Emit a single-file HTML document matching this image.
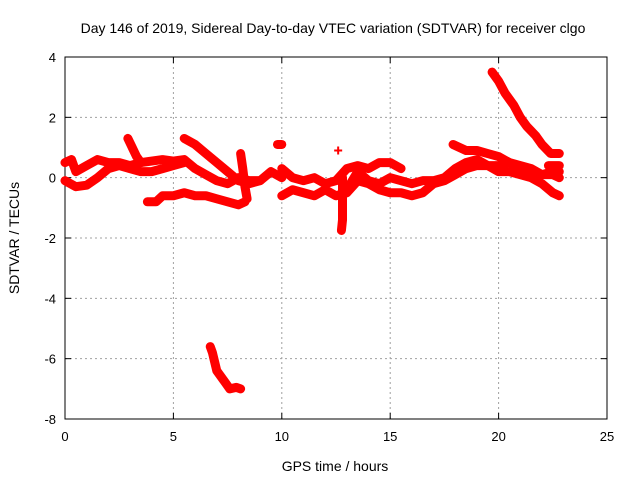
<!DOCTYPE html>
<html><head><meta charset="utf-8"><style>
body{margin:0;background:#fff}
svg text{font-family:"Liberation Sans",sans-serif;fill:#000}
</style></head><body>
<svg id="chart" width="640" height="480" xmlns="http://www.w3.org/2000/svg">
<rect width="640" height="480" fill="#fff"/>
<text x="333" y="33" font-size="14" text-anchor="middle">Day 146 of 2019, Sidereal Day-to-day VTEC variation (SDTVAR) for receiver clgo</text>
<g id="grid"></g><g id="axes"></g><g id="marks"></g>
<text x="335" y="471" font-size="14" text-anchor="middle">GPS time / hours</text>
<text transform="translate(19,238) rotate(-90)" font-size="14" text-anchor="middle">SDTVAR / TECUs</text>
</svg>
<script>
const xTicks=[0,5,10,15,20,25];
const yTicks=[4,2,0,-2,-4,-6,-8];
const tracks=[
[[0,0.5],[0.3,0.6],[0.5,0.2],[1,0.4],[1.5,0.6],[2,0.5],[2.5,0.5],[3,0.4],[3.5,0.5],[4,0.55],[4.5,0.6],[5,0.55],[5.5,0.6],[6,0.3],[6.5,0.1],[7,-0.1],[7.5,-0.2],[8,0],[8.5,-0.1],[9,-0.1],[9.5,0.2],[10,0]],
[[0,-0.1],[0.5,-0.3],[1,-0.25],[1.5,0],[2,0.3],[2.5,0.4],[3,0.3],[3.5,0.2],[4,0.2],[4.5,0.3],[5,0.4],[5.5,0.5]],
[[3.8,-0.8],[4.2,-0.8],[4.5,-0.6],[5,-0.6],[5.5,-0.5],[6,-0.6],[6.5,-0.6],[7,-0.7],[7.5,-0.8],[8,-0.9],[8.3,-0.8]],
[[5.5,1.3],[6,1.1],[6.5,0.8],[7,0.5],[7.5,0.2],[8,-0.1],[8.5,-0.2],[9,-0.1]],
[[2.9,1.3],[3.1,1.0],[3.3,0.7],[3.5,0.5]],
[[8.1,0.8],[8.2,0.3],[8.3,-0.3],[8.4,-0.7]],
[[9.8,1.1],[10,1.1]],
[[12.6,0.9]],
[[10,0.3],[10.5,0],[11,-0.1],[11.5,0],[12,-0.2],[12.5,-0.1],[13,0.3],[13.5,0.4],[14,0.3],[14.5,0.5],[15,0.5],[15.5,0.3]],
[[10,-0.6],[10.5,-0.4],[11,-0.5],[11.5,-0.6],[12,-0.4],[12.5,-0.6],[13,-0.5],[13.5,-0.1],[14,-0.2],[14.5,-0.4],[15,-0.5],[15.5,-0.5],[16,-0.6],[16.5,-0.5],[17,-0.2],[17.5,-0.1],[18,0.1],[18.5,0.3],[19,0.4],[19.5,0.4],[20,0.2],[20.5,0.2],[21,0.1],[21.5,0],[22,-0.2],[22.5,-0.5],[22.8,-0.6]],
[[12.8,-0.6],[13,-0.4],[13.5,0.2],[14,-0.1],[14.5,-0.2],[15,0],[15.5,-0.1],[16,-0.2],[16.5,-0.1],[17,-0.1],[17.5,0],[18,0.3],[18.5,0.5],[19,0.6],[19.5,0.4],[20,0.4],[20.5,0.5],[21,0.3],[21.5,0.2],[22,0.1],[22.5,0.1],[22.8,0]],
[[17.9,1.1],[18.5,0.9],[19,0.9],[19.5,0.8],[20,0.7],[20.5,0.5],[21,0.4],[21.5,0.3],[22,0.1],[22.5,0.2],[22.8,0.2]],
[[19.7,3.5],[20,3.2],[20.3,2.8],[20.7,2.4],[21,2.0],[21.3,1.7],[21.7,1.4],[22,1.1],[22.4,0.8],[22.8,0.8]],
[[22.3,0.4],[22.8,0.4]],
[[12.8,0],[12.8,-0.5],[12.8,-1],[12.8,-1.4],[12.75,-1.75]],
[[6.7,-5.6],[6.8,-5.8],[6.9,-6.1],[7.0,-6.4],[7.2,-6.6],[7.4,-6.8],[7.6,-7.0],[7.9,-6.95],[8.1,-7.0]]
];
const L=65,R=607,T=57,B=419;
const sx=v=>L+(v-0)/(25-0)*(R-L);
const sy=v=>B-(v+8)/12*(B-T);
const NS='http://www.w3.org/2000/svg';
function mk(tag,attrs,parent){const e=document.createElementNS(NS,tag);for(const k in attrs)e.setAttribute(k,attrs[k]);parent.appendChild(e);return e;}
const grid=document.getElementById('grid'),axes=document.getElementById('axes'),marks=document.getElementById('marks');
xTicks.forEach(t=>{
  if(t>0&&t<25){const g=mk('line',{x1:sx(t),x2:sx(t),y1:T,y2:B,stroke:'#a0a0a0','stroke-dasharray':'2,3'},grid);
  
  }
  const tx=mk('text',{x:sx(t),y:B+22,'font-size':13,'text-anchor':'middle'},axes);tx.textContent=t;
  
  
  mk('line',{x1:sx(t),x2:sx(t),y1:B,y2:B-6,stroke:'#000'},axes);
  mk('line',{x1:sx(t),x2:sx(t),y1:T,y2:T+6,stroke:'#000'},axes);
});
yTicks.forEach(t=>{
  if(t>-8&&t<4){const g=mk('line',{x1:L,x2:R,y1:sy(t),y2:sy(t),stroke:'#a0a0a0','stroke-dasharray':'2,3'},grid);
  
  }
  const tx=mk('text',{x:L-9,y:sy(t)+5,'font-size':13,'text-anchor':'end'},axes);tx.textContent=t;
  
  
  mk('line',{x1:L,x2:L+6,y1:sy(t),y2:sy(t),stroke:'#000'},axes);
  mk('line',{x1:R,x2:R-6,y1:sy(t),y2:sy(t),stroke:'#000'},axes);
});
const fr=mk('rect',{x:L,y:T,width:R-L,height:B-T,fill:'none',stroke:'#000'},axes);


tracks.forEach(tr=>{
  if(tr.length>1){const pl=mk('polyline',{points:tr.map(p=>sx(p[0])+','+sy(p[1])).join(' '),fill:'none',stroke:'#ff0000','stroke-width':9,'stroke-linejoin':'round','stroke-linecap':'round'},marks);
  
  }
  tr.forEach(p=>{const x=sx(p[0]),y=sy(p[1]);
    const m=mk('path',{d:`M${x-4},${y}H${x+4}M${x},${y-4}V${y+4}`,stroke:'#ff0000','stroke-width':2},marks);
    
    
  });
});
</script>
</body></html>
